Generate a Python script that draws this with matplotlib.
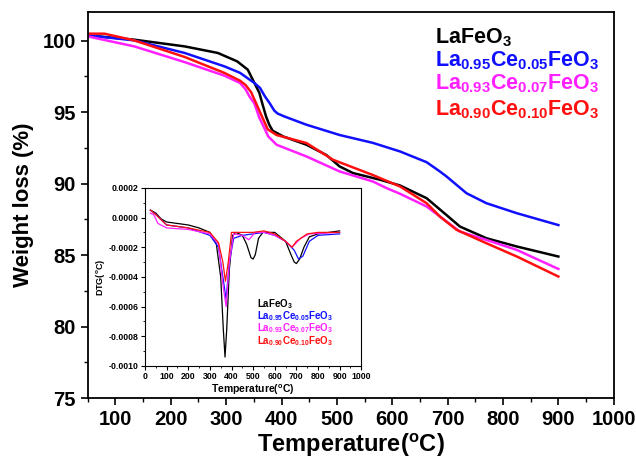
import matplotlib
matplotlib.use("Agg")
import matplotlib.pyplot as plt
from matplotlib.ticker import MultipleLocator, FormatStrFormatter

plt.rcParams['font.family'] = ['Liberation Sans', 'DejaVu Sans']
plt.rcParams['font.weight'] = 'bold'
plt.rcParams['mathtext.default'] = 'regular'

labels = ['LaFeO$_3$', 'La$_{0.95}$Ce$_{0.05}$FeO$_3$',
          'La$_{0.93}$Ce$_{0.07}$FeO$_3$', 'La$_{0.90}$Ce$_{0.10}$FeO$_3$']
colors = ['black', '#1010ff', '#ff20ff', '#ff1010']

# TGA curves (main)
t_black = [50, 134, 225, 285, 320, 339, 351, 360, 366, 372, 378, 384, 403, 445, 481, 505, 529, 578, 614, 662, 698, 722, 770, 825, 900]
w_black = [100.37, 100.07, 99.6, 99.14, 98.55, 97.97, 97.04, 96.34, 95.5, 94.7, 94.1, 93.7, 93.3, 92.72, 92.0, 91.2, 90.74, 90.27, 89.87, 88.98, 87.8, 87.0, 86.18, 85.6, 84.9]
t_blue = [50, 134, 225, 297, 325, 351, 361, 370, 379, 387, 393, 405, 445, 505, 565, 614, 662, 686, 698, 734, 770, 825, 900]
w_blue = [100.37, 100.02, 99.14, 98.2, 97.75, 97.04, 96.7, 96.1, 95.6, 95.1, 94.9, 94.7, 94.12, 93.4, 92.85, 92.25, 91.5, 90.85, 90.5, 89.33, 88.63, 87.93, 87.1]
t_mag = [50, 134, 225, 297, 325, 335, 342, 351, 360, 370, 376, 391, 445, 505, 565, 590, 614, 662, 698, 722, 770, 825, 900]
w_mag = [100.3, 99.6, 98.5, 97.55, 97.04, 96.6, 96.1, 95.6, 94.6, 93.8, 93.3, 92.72, 91.9, 90.85, 90.15, 89.68, 89.29, 88.4, 87.35, 86.65, 86.06, 85.36, 84.03]
t_red = [50, 80, 134, 225, 297, 325, 335, 345, 360, 375, 391, 445, 493, 565, 614, 662, 686, 716, 770, 825, 900]
w_red = [100.49, 100.49, 100.02, 98.86, 97.74, 97.2, 96.9, 96.4, 95.1, 93.8, 93.4, 92.84, 91.67, 90.6, 89.8, 88.63, 87.7, 86.77, 85.83, 84.9, 83.5]

# DTG curves (inset)
d_t_black = [25, 50, 75, 100, 150, 200, 250, 300, 330, 350, 362, 370, 378, 390, 405, 420, 450, 470, 490, 500, 510, 525, 545, 600, 650, 675, 690, 700, 715, 735, 760, 800, 900]
d_v_black = [0.00005, 0.00003, -0.00001, -0.00003, -0.00004, -0.00005, -0.00007, -0.0001, -0.00018, -0.0004, -0.00075, -0.00094, -0.00075, -0.00035, -0.00012, -0.0001, -0.00012, -0.00018, -0.00027, -0.00028, -0.00025, -0.00014, -0.0001, -0.0001, -0.00016, -0.00025, -0.0003, -0.00031, -0.00028, -0.0002, -0.00013, -0.00011, -0.00009]
d_t_blue = [25, 50, 100, 200, 300, 340, 360, 375, 390, 410, 450, 500, 550, 600, 650, 690, 710, 730, 760, 800, 900]
d_v_blue = [0.00005, 0.00002, -0.00005, -0.00007, -0.00012, -0.0002, -0.0004, -0.00055, -0.0003, -0.00014, -0.00012, -0.00011, -0.0001, -0.00012, -0.00016, -0.00022, -0.00028, -0.00026, -0.00016, -0.00012, -0.00011]
d_t_mag = [25, 40, 60, 100, 200, 300, 340, 360, 375, 390, 410, 450, 480, 510, 550, 600, 650, 680, 720, 760, 900]
d_v_mag = [0.00003, 0.00002, -0.00004, -0.00007, -0.00008, -0.00011, -0.00018, -0.00045, -0.0006, -0.0003, -0.00011, -0.00012, -0.00015, -0.0001, -0.0001, -0.00012, -0.00016, -0.0002, -0.00014, -0.00011, -0.0001]
d_t_red = [25, 50, 100, 200, 300, 340, 360, 372, 385, 400, 450, 500, 550, 600, 650, 680, 700, 750, 800, 900]
d_v_red = [0.00005, 0.00002, -0.00005, -0.00007, -0.0001, -0.00017, -0.0003, -0.00043, -0.0003, -0.0001, -0.0001, -0.0001, -0.00009, -0.00011, -0.00016, -0.0002, -0.00016, -0.00011, -0.0001, -0.0001]

fig = plt.figure(figsize=(6.36, 4.65), dpi=100)
ax = fig.add_axes([0.138, 0.144, 0.827, 0.830])

main = [(t_black, w_black), (t_blue, w_blue), (t_mag, w_mag), (t_red, w_red)]
for (t, w), c in zip(main, colors):
    ax.plot(t, w, color=c, lw=1.8, solid_joinstyle='round')

ax.set_xlim(50, 1000)
ax.set_ylim(75, 102)
ax.xaxis.set_minor_locator(MultipleLocator(50))
ax.yaxis.set_major_locator(MultipleLocator(5))
ax.yaxis.set_minor_locator(MultipleLocator(2.5))
ax.set_xticks(range(100, 1001, 100))
ax.tick_params(which='major', direction='out', length=5, width=1.2, labelsize=14.5)
ax.tick_params(which='minor', direction='out', length=3, width=1.0)
for lab in ax.get_xticklabels() + ax.get_yticklabels():
    lab.set_fontweight('bold')
for s in ax.spines.values():
    s.set_linewidth(1.3)
ax.set_xlabel('Temperature($^{o}$C)', fontsize=17, fontweight='bold', labelpad=2)
ax.set_ylabel('Weight loss (%)', fontsize=16, fontweight='bold', labelpad=6)

# coloured text legend
for lab, c, y in zip(labels, colors, [0.918, 0.869, 0.819, 0.765]):
    fig.text(0.684, y, lab, color=c, fontsize=15.5, fontweight='bold', va='center')

# inset
ins = fig.add_axes([0.228, 0.213, 0.340, 0.383])
dtg = [(d_t_black, d_v_black), (d_t_blue, d_v_blue), (d_t_mag, d_v_mag), (d_t_red, d_v_red)]
for (t, v), c in zip(dtg, colors):
    ins.plot(t, v, color=c, lw=0.9)
ins.set_xlim(0, 1000)
ins.set_ylim(-0.0010, 0.0002)
ins.xaxis.set_major_locator(MultipleLocator(100))
ins.xaxis.set_minor_locator(MultipleLocator(50))
ins.yaxis.set_major_locator(MultipleLocator(0.0002))
ins.yaxis.set_minor_locator(MultipleLocator(0.0001))
ins.yaxis.set_major_formatter(FormatStrFormatter('%.4f'))
ins.tick_params(which='major', direction='out', length=3, width=0.8, labelsize=6.3, pad=1.5)
ins.tick_params(which='minor', direction='out', length=1.5, width=0.6)
for lab in ins.get_xticklabels() + ins.get_yticklabels():
    lab.set_fontweight('bold')
for s in ins.spines.values():
    s.set_linewidth(0.8)
ins.set_xlabel('Temperature($^{o}$C)', fontsize=7.5, fontweight='bold', labelpad=1)
ins.set_ylabel('DTG($^{o}$C)', fontsize=6.5, fontweight='bold', labelpad=1)
for lab, c, y in zip(labels, colors, [0.35, 0.28, 0.21, 0.14]):
    ins.text(0.52, y, lab, color=c, fontsize=7, fontweight='bold', transform=ins.transAxes, va='center')

fig.savefig('out.png', dpi=100)
